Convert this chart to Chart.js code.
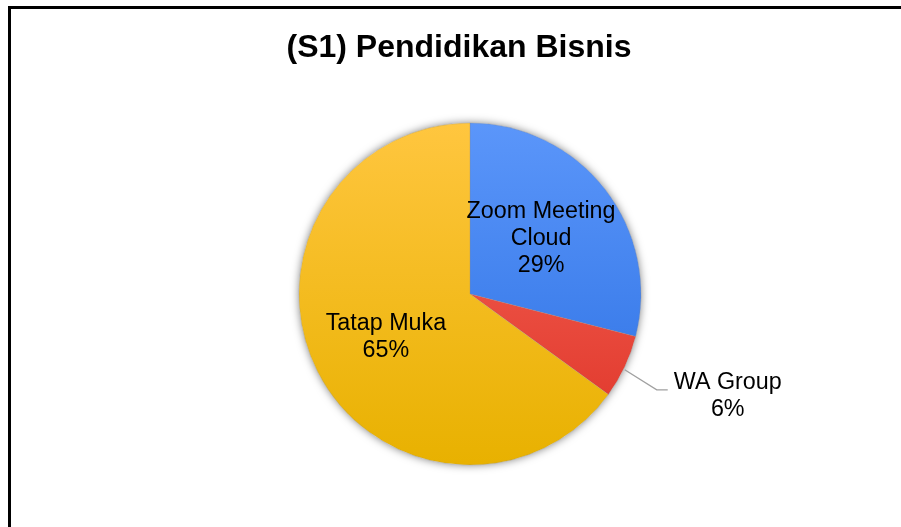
<!DOCTYPE html>
<html>
<head>
<meta charset="utf-8">
<script src="https://cdn.jsdelivr.net/npm/chart.js@4.4.1/dist/chart.umd.min.js"></script>
<style>
  html, body { margin: 0; padding: 0; background: #ffffff; overflow: hidden; }
  #wrap { position: relative; width: 901px; height: 527px; }
</style>
</head>
<body>
<div id="wrap"><canvas id="c" width="901" height="527"></canvas></div>
<script>
const chartTitle = '(S1) Pendidikan Bisnis';
const categories = ['Zoom Meeting Cloud', 'WA Group', 'Tatap Muka'];
const labelLines = [['Zoom Meeting', 'Cloud'], ['WA Group'], ['Tatap Muka']];
const values = [29, 6, 65];
const topColors = ['#5b96fa', '#f76a5c', '#ffc63f'];
const bottomColors = ['#2a6fe2', '#de3226', '#e8b100'];

const FONT = "'Liberation Sans', Arial, sans-serif";

function sliceGradient(ctx, i) {
  const area = ctx.chart.chartArea;
  if (!area) return topColors[i];
  const g = ctx.chart.ctx.createLinearGradient(0, area.top, 0, area.bottom);
  g.addColorStop(0, topColors[i]);
  g.addColorStop(1, bottomColors[i]);
  return g;
}

const framePlugin = {
  id: 'frame',
  beforeDraw(chart) {
    const c = chart.ctx;
    c.save();
    c.fillStyle = '#ffffff';
    c.fillRect(0, 0, chart.width, chart.height);
    c.restore();
  },
  afterDraw(chart) {
    const c = chart.ctx;
    c.save();
    c.fillStyle = '#000000';
    c.fillRect(8, 6, 3, chart.height);
    c.fillRect(8, 6, chart.width, 3);
    // title
    c.font = 'bold 32px ' + FONT;
    c.textAlign = 'center';
    c.textBaseline = 'middle';
    c.fillText(chartTitle, 459, 48);
    c.restore();
  }
};

const shadowPlugin = {
  id: 'pieShadow',
  beforeDatasetsDraw(chart) {
    const arc = chart.getDatasetMeta(0).data[0];
    if (!arc) return;
    const c = chart.ctx;
    c.save();
    c.shadowColor = 'rgba(0,0,0,0.5)';
    c.shadowBlur = 8;
    c.fillStyle = '#ffffff';
    c.beginPath();
    c.arc(arc.x, arc.y, arc.outerRadius, 0, Math.PI * 2);
    c.fill();
    c.restore();
  }
};

const labelPlugin = {
  id: 'sliceLabels',
  afterDatasetsDraw(chart) {
    const meta = chart.getDatasetMeta(0);
    const total = values.reduce((a, b) => a + b, 0);
    const c = chart.ctx;
    c.save();
    c.font = '23.3px ' + FONT;
    c.fillStyle = '#000000';
    c.textAlign = 'center';
    c.textBaseline = 'middle';
    const lineH = 27;
    meta.data.forEach((arc, i) => {
      const mid = (arc.startAngle + arc.endAngle) / 2;
      const pct = Math.round(values[i] / total * 100) + '%';
      const lines = labelLines[i].concat([pct]);
      let cx, cy;
      if (i === 1) {
        // outside label with leader line
        const sx = arc.x + Math.cos(mid) * arc.outerRadius;
        const sy = arc.y + Math.sin(mid) * arc.outerRadius + 3;
        const ex = sx + 32, ey = sy + 20;
        c.save();
        c.strokeStyle = '#a0a0a0';
        c.lineWidth = 1.3;
        c.beginPath();
        c.moveTo(sx, sy);
        c.lineTo(ex, ey);
        c.lineTo(ex + 11, ey);
        c.stroke();
        c.restore();
        cx = ex + 71;
        cy = ey + 6.5;
      } else {
        const f = i === 0 ? 0.526 : 0.552;
        cx = arc.x + Math.cos(mid) * arc.outerRadius * f;
        cy = arc.y + Math.sin(mid) * arc.outerRadius * f;
      }
      const startY = cy - (lines.length - 1) * lineH / 2;
      lines.forEach((t, k) => c.fillText(t, cx, startY + k * lineH));
    });
    c.restore();
  }
};

new Chart(document.getElementById('c'), {
  type: 'pie',
  data: {
    labels: categories,
    datasets: [{
      data: values,
      backgroundColor: (ctx) => sliceGradient(ctx, ctx.dataIndex),
      borderColor: 'rgba(140,140,140,0.35)',
      borderWidth: 0.8
    }]
  },
  options: {
    responsive: false,
    animation: false,
    radius: 171,
    layout: { padding: { top: 123, bottom: 62, left: 60, right: 21 } },
    plugins: {
      legend: { display: false },
      title: { display: false },
      tooltip: { enabled: false }
    }
  },
  plugins: [framePlugin, shadowPlugin, labelPlugin]
});
</script>
</body>
</html>
